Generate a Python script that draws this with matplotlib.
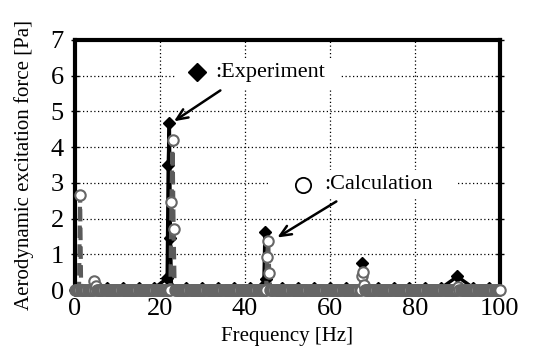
import matplotlib
matplotlib.use("Agg")
import matplotlib.pyplot as plt
from matplotlib.patches import Rectangle
import numpy as np

plt.rcParams['font.family'] = ['Liberation Serif', 'DejaVu Serif']

# measured spectrum (black diamonds)
exp_freq = [0, 3.75, 7.5, 11.25, 15, 18.75, 21.75, 22.0, 22.25, 22.5, 22.75,
            26.25, 30, 33.75, 37.5, 41.25, 44.5, 44.75, 45.0, 45.25,
            48.75, 52.5, 56.25, 60, 63.75, 67.25, 67.5, 67.75,
            71.25, 75, 78.75, 82.5, 86.25, 90, 93.75, 97.5]
exp_amp = [0.0, 0.06, 0.06, 0.06, 0.06, 0.06, 0.33, 3.5, 4.68, 1.45, 0.06,
           0.06, 0.06, 0.06, 0.06, 0.06, 0.15, 1.62, 0.3, 0.06,
           0.06, 0.06, 0.06, 0.06, 0.06, 0.06, 0.76, 0.06,
           0.06, 0.06, 0.06, 0.06, 0.06, 0.38, 0.06, 0.06]

# calculated spectrum on a 0.25 Hz grid, zero apart from the peaks
calc_freq = np.arange(0, 100.25, 0.25)
calc_peak_freq = [1.25, 4.5, 5.0, 22.75, 23.0, 23.25, 45.25, 45.5, 45.75,
                  67.5, 67.75, 68.0, 90.25]
calc_peak_amp = [2.65, 0.25, 0.12, 2.45, 4.2, 1.72, 0.93, 1.37, 0.48,
                 0.38, 0.5, 0.15, 0.08]
calc_amp = np.zeros(len(calc_freq))
for f, a in zip(calc_peak_freq, calc_peak_amp):
    calc_amp[np.argmin(np.abs(calc_freq - f))] = a

fig = plt.figure(figsize=(5.34, 3.63), dpi=100)
ax = fig.add_axes([0.140, 0.201, 0.796, 0.689])

ax.plot(exp_freq, exp_amp, color='black', lw=2.5, marker='D', ms=6.5,
        mfc='black', mec='black', clip_on=False, zorder=3)
ax.plot(calc_freq, calc_amp, color='#5a5a5a', lw=3, ls=(0, (3, 1.5)),
        marker='o', ms=7.5, mfc='white', mec='#666666', mew=1.5,
        clip_on=False, zorder=4)

ax.set_xlim(0, 100)
ax.set_ylim(0, 7)
ax.set_xticks([0, 20, 40, 60, 80, 100])
ax.set_yticks(range(8))
ax.grid(True, color='black', ls=(0, (1, 2)), lw=0.9)
ax.set_axisbelow(True)

for s in ['left', 'top', 'right']:
    ax.spines[s].set_linewidth(3)
ax.spines['bottom'].set_linewidth(1.5)
ax.tick_params(axis='both', labelsize=19, width=1, length=4, pad=2)
ax.tick_params(axis='y', right=True, direction='inout', length=6, pad=5)

ax.set_xlabel('Frequency [Hz]', fontsize=15, labelpad=5)
ax.set_ylabel('Aerodynamic excitation force [Pa]', fontsize=15, labelpad=12)

# legend-like labels with white backing and arrows
ax.add_patch(Rectangle((23.5, 5.65), 38.9, 0.8, facecolor='white',
                       edgecolor='none', zorder=2))
ax.plot([28.7], [6.1], marker='D', ms=9.5, color='black', ls='none', zorder=5)
ax.text(33.0, 6.08, ':Experiment', fontsize=16, va='center', ha='left',
        zorder=5)
ax.annotate('', xy=(22.8, 4.68), xytext=(34.8, 5.63),
            arrowprops=dict(arrowstyle='->,head_length=0.8,head_width=0.35',
                            color='black', lw=1.8), zorder=6)

ax.add_patch(Rectangle((45.9, 2.55), 44.2, 0.8, facecolor='white',
                       edgecolor='none', zorder=2))
ax.plot([53.6], [2.94], marker='o', ms=11, mfc='white', mec='black', mew=1.3,
        ls='none', zorder=5)
ax.text(58.8, 2.94, ':Calculation', fontsize=16, va='center', ha='left',
        zorder=5)
ax.annotate('', xy=(47.1, 1.43), xytext=(62.1, 2.52),
            arrowprops=dict(arrowstyle='->,head_length=0.8,head_width=0.35',
                            color='black', lw=1.8), zorder=6)

fig.savefig('out.png', dpi=100)
